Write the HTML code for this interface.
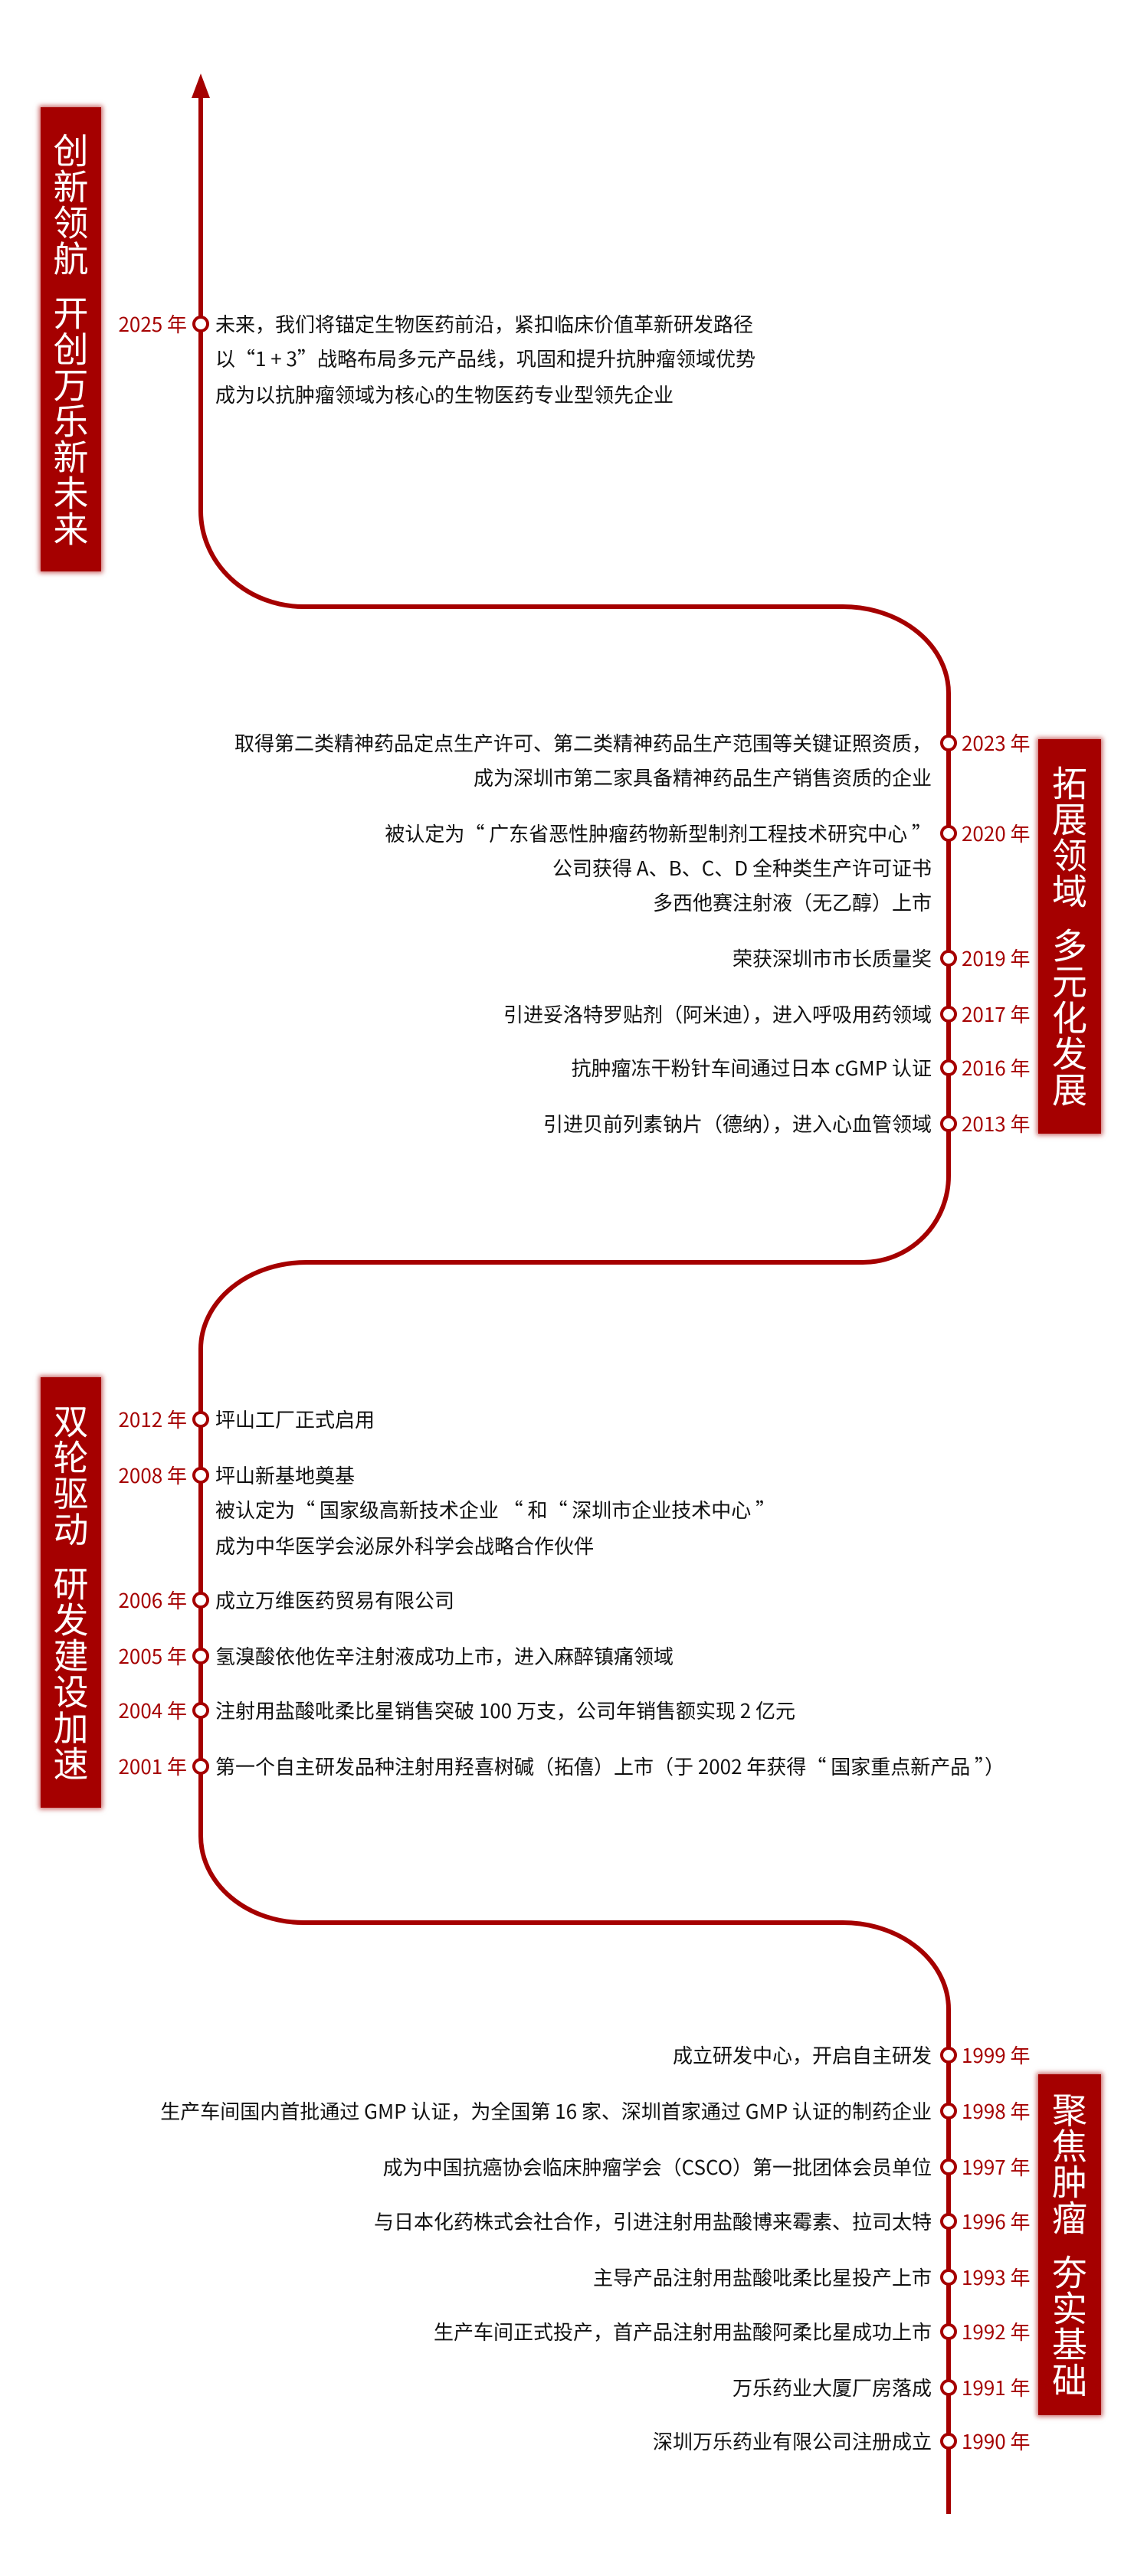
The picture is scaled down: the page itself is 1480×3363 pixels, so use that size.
<!DOCTYPE html>
<html><head><meta charset="utf-8"><style>
html,body{margin:0;padding:0;background:#fff;}
body{width:1480px;height:3363px;position:relative;overflow:hidden;font-family:"Noto Sans CJK SC","Liberation Sans",sans-serif;}
.t{position:absolute;font-size:26px;line-height:30px;color:#111;white-space:nowrap;}
.l{left:281px;}
.r{right:264px;text-align:right;}
.y{position:absolute;font-size:26px;line-height:30px;color:#a50000;white-space:nowrap;}
.yl{right:1236px;text-align:right;}
.yr{left:1255px;}
.b{position:absolute;background:#a50000;box-shadow:0 0 6px 2px rgba(165,0,0,.6);display:flex;align-items:center;justify-content:center;}
.b span{writing-mode:vertical-rl;color:#fff;font-family:"Noto Sans CJK SC",sans-serif;font-size:46px;line-height:46px;letter-spacing:1px;}
.b i{display:inline-block;height:24px;width:1px;}
</style></head><body>
<svg width="1480" height="3363" style="position:absolute;left:0;top:0">
<path d="M262,118 V667 A134,125 0 0 0 396,792 H1100 A138,113 0 0 1 1238,905 V1535 A112,113 0 0 1 1126,1648 H400 A138,113 0 0 0 262,1761 V2397 A134,113 0 0 0 396,2510 H1100 A138,113 0 0 1 1238,2623 V3282" fill="none" stroke="#a50000" stroke-width="6"/>
<polygon points="262,96 250,128 274,128" fill="#a50000"/>
<g fill="#fff" stroke="#a50000" stroke-width="4">
<circle cx="262" cy="423" r="9"/>
<circle cx="1238" cy="970" r="9"/><circle cx="1238" cy="1088" r="9"/><circle cx="1238" cy="1251" r="9"/><circle cx="1238" cy="1324" r="9"/><circle cx="1238" cy="1394" r="9"/><circle cx="1238" cy="1467" r="9"/>
<circle cx="262" cy="1853" r="9"/><circle cx="262" cy="1926" r="9"/><circle cx="262" cy="2089" r="9"/><circle cx="262" cy="2162" r="9"/><circle cx="262" cy="2233" r="9"/><circle cx="262" cy="2306" r="9"/>
<circle cx="1238" cy="2683" r="9"/><circle cx="1238" cy="2756" r="9"/><circle cx="1238" cy="2829" r="9"/><circle cx="1238" cy="2900" r="9"/><circle cx="1238" cy="2973" r="9"/><circle cx="1238" cy="3044" r="9"/><circle cx="1238" cy="3117" r="9"/><circle cx="1238" cy="3187" r="9"/>
</g>
</svg>

<div class="b" style="left:53px;top:140px;width:79px;height:606px"><span>创新领航<i></i>开创万乐新未来</span></div>
<div class="b" style="left:1355px;top:965px;width:82px;height:515px"><span>拓展领域<i></i>多元化发展</span></div>
<div class="b" style="left:53px;top:1798px;width:79px;height:562px"><span>双轮驱动<i></i>研发建设加速</span></div>
<div class="b" style="left:1355px;top:2708px;width:82px;height:445px"><span>聚焦肿瘤<i></i>夯实基础</span></div>

<div class="y yl" style="top:408px">2025 年</div>
<div class="t l" style="top:408px">未来，我们将锚定生物医药前沿，紧扣临床价值革新研发路径</div>
<div class="t l" style="top:453px">以“1 + 3”战略布局多元产品线，巩固和提升抗肿瘤领域优势</div>
<div class="t l" style="top:500px">成为以抗肿瘤领域为核心的生物医药专业型领先企业</div>

<div class="y yr" style="top:955px">2023 年</div>
<div class="t r" style="top:955px">取得第二类精神药品定点生产许可、第二类精神药品生产范围等关键证照资质，</div>
<div class="t r" style="top:1000px">成为深圳市第二家具备精神药品生产销售资质的企业</div>
<div class="y yr" style="top:1073px">2020 年</div>
<div class="t r" style="top:1073px">被认定为“ 广东省恶性肿瘤药物新型制剂工程技术研究中心 ”</div>
<div class="t r" style="top:1118px">公司获得 A、B、C、D 全种类生产许可证书</div>
<div class="t r" style="top:1163px">多西他赛注射液（无乙醇）上市</div>
<div class="y yr" style="top:1236px">2019 年</div>
<div class="t r" style="top:1236px">荣获深圳市市长质量奖</div>
<div class="y yr" style="top:1309px">2017 年</div>
<div class="t r" style="top:1309px">引进妥洛特罗贴剂（阿米迪），进入呼吸用药领域</div>
<div class="y yr" style="top:1379px">2016 年</div>
<div class="t r" style="top:1379px">抗肿瘤冻干粉针车间通过日本 cGMP 认证</div>
<div class="y yr" style="top:1452px">2013 年</div>
<div class="t r" style="top:1452px">引进贝前列素钠片（德纳），进入心血管领域</div>

<div class="y yl" style="top:1838px">2012 年</div>
<div class="t l" style="top:1838px">坪山工厂正式启用</div>
<div class="y yl" style="top:1911px">2008 年</div>
<div class="t l" style="top:1911px">坪山新基地奠基</div>
<div class="t l" style="top:1956px">被认定为“ 国家级高新技术企业 “ 和“ 深圳市企业技术中心 ”</div>
<div class="t l" style="top:2003px">成为中华医学会泌尿外科学会战略合作伙伴</div>
<div class="y yl" style="top:2074px">2006 年</div>
<div class="t l" style="top:2074px">成立万维医药贸易有限公司</div>
<div class="y yl" style="top:2147px">2005 年</div>
<div class="t l" style="top:2147px">氢溴酸依他佐辛注射液成功上市，进入麻醉镇痛领域</div>
<div class="y yl" style="top:2218px">2004 年</div>
<div class="t l" style="top:2218px">注射用盐酸吡柔比星销售突破 100 万支，公司年销售额实现 2 亿元</div>
<div class="y yl" style="top:2291px">2001 年</div>
<div class="t l" style="top:2291px">第一个自主研发品种注射用羟喜树碱（拓僖）上市（于 2002 年获得“ 国家重点新产品 ”）</div>

<div class="y yr" style="top:2668px">1999 年</div>
<div class="t r" style="top:2668px">成立研发中心，开启自主研发</div>
<div class="y yr" style="top:2741px">1998 年</div>
<div class="t r" style="top:2741px">生产车间国内首批通过 GMP 认证，为全国第 16 家、深圳首家通过 GMP 认证的制药企业</div>
<div class="y yr" style="top:2814px">1997 年</div>
<div class="t r" style="top:2814px">成为中国抗癌协会临床肿瘤学会（CSCO）第一批团体会员单位</div>
<div class="y yr" style="top:2885px">1996 年</div>
<div class="t r" style="top:2885px">与日本化药株式会社合作，引进注射用盐酸博来霉素、拉司太特</div>
<div class="y yr" style="top:2958px">1993 年</div>
<div class="t r" style="top:2958px">主导产品注射用盐酸吡柔比星投产上市</div>
<div class="y yr" style="top:3029px">1992 年</div>
<div class="t r" style="top:3029px">生产车间正式投产，首产品注射用盐酸阿柔比星成功上市</div>
<div class="y yr" style="top:3102px">1991 年</div>
<div class="t r" style="top:3102px">万乐药业大厦厂房落成</div>
<div class="y yr" style="top:3172px">1990 年</div>
<div class="t r" style="top:3172px">深圳万乐药业有限公司注册成立</div>
</body></html>
